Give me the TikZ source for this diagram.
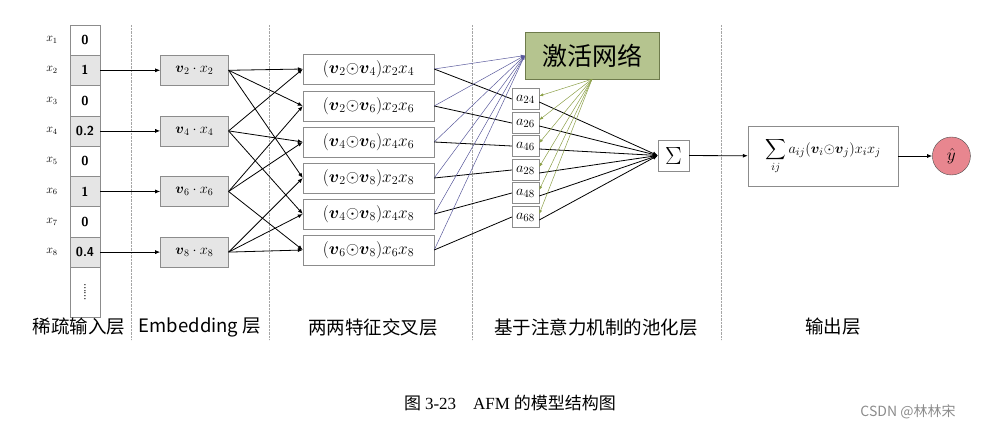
\documentclass[tikz,border=0pt]{standalone}
\usepackage{amsmath}
\usepackage{graphicx}
\usepackage{fontspec}
\usepackage{tikz}
\usetikzlibrary{arrows.meta,positioning,calc}
\newfontfamily\cjk{Noto Sans CJK SC}
\newfontfamily\capfont{Liberation Serif}
\definecolor{actfill}{HTML}{B5C48F}
\definecolor{actdraw}{HTML}{6E7B4C}
\definecolor{attline}{HTML}{5A5A9C}
\definecolor{gateline}{HTML}{8CA048}
\definecolor{yfill}{HTML}{E8868F}
\newcommand{\bv}[1]{\boldsymbol{v}_{#1}}

\begin{document}
\begin{tikzpicture}[x=1pt, y=-1pt,
  cell/.style={draw=black!45, minimum width=30pt, minimum height=30.3pt, inner sep=0pt, font=\fontsize{13}{13}\sffamily\bfseries},
  hot/.style={cell, fill=black!10},
  xlab/.style={font=\fontsize{12}{12}\selectfont},
  emb/.style={draw=black!45, fill=black!10, minimum width=68pt, minimum height=30pt, inner sep=0pt, font=\fontsize{14}{14}\selectfont},
  crs/.style={draw=black!45, minimum width=131pt, minimum height=30pt, inner sep=0pt, font=\fontsize{16.5}{16.5}\selectfont},
  att/.style={draw=black!45, minimum width=27pt, minimum height=21pt, inner sep=0pt, font=\fontsize{15.5}{15.5}\selectfont},
  actbox/.style={draw=actdraw, fill=actfill, minimum width=134pt, minimum height=47pt, font=\fontsize{25}{25}\cjk},
  sumbox/.style={draw=black!45, minimum width=31pt, minimum height=31pt, inner sep=0pt, font=\fontsize{24}{24}\selectfont},
  outbox/.style={draw=black!45, minimum width=150pt, minimum height=60pt, inner sep=0pt, font=\fontsize{15}{15}\selectfont},
  ycirc/.style={draw=black!70, fill=yfill, circle, minimum size=38pt, inner sep=0pt, font=\fontsize{17}{17}\selectfont},
  lay/.style={font=\fontsize{18.5}{18.5}\cjk},
  sep/.style={draw=black!35, densely dotted},
  ar/.style={line width=0.8pt, -{Latex[length=5pt,width=4pt]}},
  thin ar/.style={line width=0.5pt, -{Latex[length=4pt,width=3pt]}}
]
\useasboundingbox (0,0) rectangle (988,431);

% layer separators
\foreach \x in {131,269,472,721}
  \draw[sep] (\x,25) -- (\x,340);

% sparse input
\foreach \i/\v/\s in {1/0/cell,2/1/hot,3/0/cell,4/0.2/hot,5/0/cell,6/1/hot,7/0/cell,8/0.4/hot}{
  \node[\s] (in\i) at (85,{40+30.3*(\i-1)}) {\v};
  \node[xlab] (x\i) at (52,{40+30.3*(\i-1)}) {$x_{\i}$};
}
\node[cell, minimum height=50pt] (indots) at (85,292) {\rotatebox{90}{\fontsize{9}{9}\selectfont......}};

% embedding
\foreach \i in {2,4,6,8}
  \node[emb, right=60pt of in\i] (e\i) {$\bv{\i}\cdot x_{\i}$};

% pair-wise interaction
\foreach \a/\b/\y in {2/4/69,2/6/106,4/6/142,2/8/178,4/8/214,6/8/250}
  \node[crs] (c\a\b) at (368.5,\y) {$(\bv{\a}{\odot}\bv{\b})x_{\a}x_{\b}$};

% attention pooling
\node[actbox] (act) at (592,55.5) {激活网络};
\foreach \a/\b/\y in {2/4/99,2/6/123,4/6/146,2/8/170,4/8/193,6/8/217}
  \node[att] (a\a\b) at (525.5,\y) {$a_{\a\b}$};
\node[sumbox] (sum) at (673.5,155.5) {$\Sigma$};

% output
\node[outbox] (out) at (823,156) {$\displaystyle\sum_{ij}a_{ij}(\bv{i}{\odot}\bv{j})x_ix_j$};
\node[ycirc, right=34pt of out] (yhat) {$\hat{y}$};

% connectors
\foreach \i in {2,4,6,8}
  \draw[ar] (in\i) -- (e\i);
\foreach \i/\c in {2/24,2/26,2/28,4/24,4/46,4/48,6/26,6/46,6/68,8/28,8/48,8/68}
  \draw[ar] (e\i.east) -- (c\c.west);
\foreach \c in {24,26,46,28,48,68}{
  \draw[thin ar, attline] (c\c.east) -- (act.west);
  \draw[line width=0.8pt] (c\c.east) -- (a\c.west);
  \draw[thin ar, gateline] (act.south) -- ([yshift=3pt]a\c.east);
  \draw[ar] ([yshift=-3pt]a\c.east) -- (sum.west);
}
\draw[ar] (sum) -- (out);
\draw[ar] (out) -- (yhat);

% labels
\node[lay] (l1) at (79,327) {稀疏输入层};
\node[lay] (l2) at (200,327) {Embedding 层};
\node[lay] (l3) at (373,327) {两两特征交叉层};
\node[lay] (l4) at (596,327) {基于注意力机制的池化层};
\node[lay] (l5) at (833,327) {输出层};
\node[font=\fontsize{17}{17}\cjk] (cap) at (510,403) {图 {\capfont 3-23}\quad {\capfont AFM} 的模型结构图};
\node[font=\fontsize{14}{14}\cjk, text=black!45] (wm) at (908,412) {CSDN @林林宋};
\end{tikzpicture}
\end{document}
